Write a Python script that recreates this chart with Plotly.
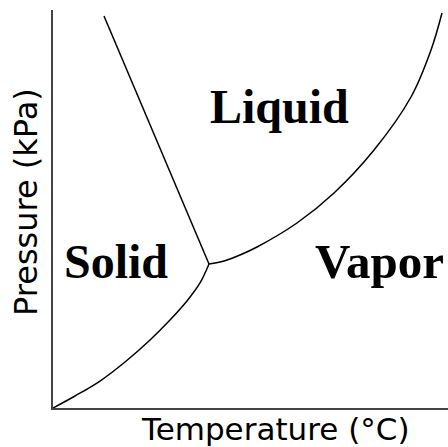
import plotly.graph_objects as go

# Phase boundaries (arbitrary temperature / pressure units, 0-100)
sublimation_T = [0.0, 5.57, 11.90, 18.23, 24.56, 29.62, 33.92, 37.22, 39.49]
sublimation_P = [0.0, 3.02, 6.78, 11.56, 17.09, 22.11, 26.88, 31.41, 36.18]

vaporization_T = [39.49, 43.29, 47.34, 51.65, 61.77, 71.14, 81.27, 90.63, 95.70, 98.48]
vaporization_P = [36.18, 36.93, 38.44, 40.45, 46.48, 54.02, 64.82, 78.14, 89.95, 99.25]

fusion_T = [12.91, 39.49]
fusion_P = [98.49, 36.18]

phase_names = ["Liquid", "Solid", "Vapor"]
phase_T = [57.34, 15.95, 82.66]
phase_P = [75.75, 36.81, 36.81]
phase_size = [48, 48, 49]

x_title = "Temperature (°C)"
y_title = "Pressure (kPa)"

fig = go.Figure()
line_style = dict(color="black", width=1.5)
fig.add_trace(go.Scatter(x=sublimation_T, y=sublimation_P, mode="lines",
                         line=dict(shape="spline", **line_style), hoverinfo="skip"))
fig.add_trace(go.Scatter(x=vaporization_T, y=vaporization_P, mode="lines",
                         line=dict(shape="spline", **line_style), hoverinfo="skip"))
fig.add_trace(go.Scatter(x=fusion_T, y=fusion_P, mode="lines",
                         line=line_style, hoverinfo="skip"))

for name, t, p, s in zip(phase_names, phase_T, phase_P, phase_size):
    fig.add_annotation(x=t, y=p, xref="x", yref="y", text="<b>%s</b>" % name,
                       showarrow=False, xanchor="center", yanchor="middle",
                       font=dict(family="Liberation Serif", size=s, color="black"))

fig.add_annotation(x=0.563, y=-0.0528, xref="paper", yref="paper", text=x_title,
                   showarrow=False, xanchor="center", yanchor="middle",
                   font=dict(family="DejaVu Sans", size=31, color="black"))
fig.add_annotation(x=-0.0684, y=0.5176, xref="paper", yref="paper", text=y_title,
                   showarrow=False, xanchor="center", yanchor="middle", textangle=-90,
                   font=dict(family="DejaVu Sans", size=32, color="black"))

axis_common = dict(showgrid=False, zeroline=False, showticklabels=False, ticks="",
                   showline=True, linecolor="#444444", linewidth=2, range=[0, 100],
                   fixedrange=True)
fig.update_xaxes(**axis_common)
fig.update_yaxes(**axis_common)

fig.update_layout(width=448, height=447, margin=dict(l=53, r=0, t=10, b=39),
                  paper_bgcolor="white", plot_bgcolor="white", showlegend=False)

fig.write_html("out.html", config={"displayModeBar": False},
               post_script="document.body.style.margin='0';document.body.style.overflow='hidden';")
